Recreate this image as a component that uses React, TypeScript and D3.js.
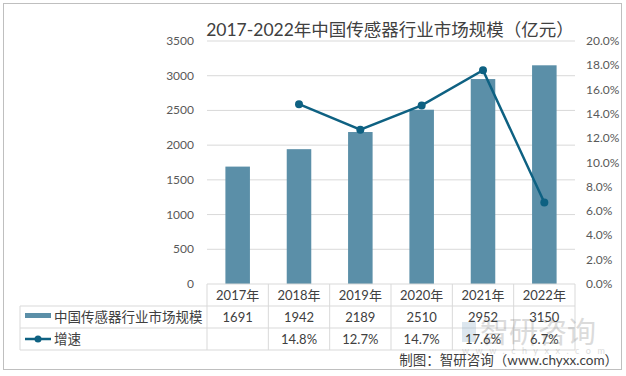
import React from "react";
import * as d3 from "d3";

const years = ["2017年", "2018年", "2019年", "2020年", "2021年", "2022年"];
const marketSize = [1691, 1942, 2189, 2510, 2952, 3150];
const growth: (number | null)[] = [null, 14.8, 12.7, 14.7, 17.6, 6.7];
const leftTicks = [0, 500, 1000, 1500, 2000, 2500, 3000, 3500];
const rightTicks = [0, 2, 4, 6, 8, 10, 12, 14, 16, 18, 20];
const seriesNames = ["中国传感器行业市场规模", "增速"];
const title = "2017-2022年中国传感器行业市场规模（亿元）";
const source = "制图：智研咨询（www.chyxx.com）";

const W = 626, H = 376;
const FONT = "Lato, 'Noto Sans CJK SC', sans-serif";
const BAR = "#5b8fa8";
const LINE = "#0e6182";
const GRID = "#d9d9d9";
const TXT = "#404040";

export default function App() {
  const x0 = 207, x1 = 575, yTop = 41, yBot = 284;
  const x = d3.scaleBand<string>().domain(years).range([x0, x1]).paddingInner(0).paddingOuter(0);
  const yL = d3.scaleLinear().domain([0, 3500]).range([yBot, yTop]);
  const yR = d3.scaleLinear().domain([0, 20]).range([yBot, yTop]);
  const bw = x.bandwidth() * 0.4;
  const cx = (i: number) => (x(years[i]) as number) + x.bandwidth() / 2;

  const pts = growth
    .map((g, i) => (g == null ? null : ([cx(i), yR(g)] as [number, number])))
    .filter((p): p is [number, number] => p !== null);
  const line = d3.line<[number, number]>()(pts) || "";

  const rowY = [284, 306, 328, 350];
  const legendX = 20;

  return (
    <svg width={W} height={H} style={{ position: "absolute", left: 0, top: 0, fontFamily: FONT }}>
      <rect x={0} y={0} width={W} height={H} fill="#fff" />
      <rect x={3.5} y={3.5} width={618} height={366} fill="none" stroke="#bfbfbf" strokeWidth={1} />
      <text x={390} y={36} textAnchor="middle" fontSize={17.5} fill={TXT}>{title}</text>

      {leftTicks.map((t) => (
        <g key={"l" + t}>
          {t > 0 && <line x1={x0} x2={x1} y1={yL(t)} y2={yL(t)} stroke={GRID} strokeWidth={1} />}
          <text x={194} y={yL(t) + 4} textAnchor="end" fontSize={12} fill="#595959">{t}</text>
        </g>
      ))}
      {rightTicks.map((t) => (
        <text key={"r" + t} x={586} y={yR(t) + 4} textAnchor="start" fontSize={12} fill="#595959">
          {t.toFixed(1) + "%"}
        </text>
      ))}

      {marketSize.map((v, i) => (
        <rect key={"b" + i} x={cx(i) - bw / 2} y={yL(v)} width={bw} height={yBot - yL(v)} fill={BAR} />
      ))}

      <path d={line} fill="none" stroke={LINE} strokeWidth={2.5} />
      {pts.map((p, i) => (
        <circle key={"c" + i} cx={p[0]} cy={p[1]} r={4} fill={LINE} />
      ))}

      {/* data table */}
      <line x1={x0} x2={x1} y1={rowY[0]} y2={rowY[0]} stroke={GRID} />
      {rowY.slice(1).map((y, i) => (
        <line key={"h" + i} x1={legendX} x2={x1} y1={y} y2={y} stroke={GRID} />
      ))}
      <line x1={legendX} x2={legendX} y1={rowY[1]} y2={rowY[3]} stroke={GRID} />
      {years.map((yr, i) => (
        <line key={"v" + i} x1={x(yr) as number} x2={x(yr) as number} y1={rowY[0]} y2={rowY[3]} stroke={GRID} />
      ))}
      <line x1={x1} x2={x1} y1={rowY[0]} y2={rowY[3]} stroke={GRID} />

      {/* watermark (behind table text) */}
      <g opacity={0.3}>
        <rect x={462} y={322} width={14} height={20} fill="#8fb0c8" />
        <text x={480} y={343} fontSize={29} fill="#8a8a8a">智研咨询</text>
        <text x={462} y={354} fontSize={9} fill="#8a8a8a" letterSpacing={6.5}>www.chyxx.com</text>
      </g>

      {years.map((yr, i) => (
        <text key={"y" + i} x={cx(i)} y={300} textAnchor="middle" fontSize={13} fill={TXT}>{yr}</text>
      ))}
      {marketSize.map((v, i) => (
        <text key={"m" + i} x={cx(i)} y={322} textAnchor="middle" fontSize={13} fill={TXT}>{v}</text>
      ))}
      {growth.map((g, i) =>
        g == null ? null : (
          <text key={"g" + i} x={cx(i)} y={344} textAnchor="middle" fontSize={13} fill={TXT}>
            {g.toFixed(1) + "%"}
          </text>
        )
      )}

      <rect x={25} y={313} width={26} height={5} fill={BAR} />
      <text x={54} y={322} fontSize={13.5} fill={TXT}>{seriesNames[0]}</text>
      <line x1={25} x2={51} y1={339} y2={339} stroke={LINE} strokeWidth={2.5} />
      <circle cx={38} cy={339} r={3.5} fill={LINE} />
      <text x={54} y={344} fontSize={13.5} fill={TXT}>{seriesNames[1]}</text>

      <text x={618} y={365} textAnchor="end" fontSize={13.5} fill={TXT}>{source}</text>
    </svg>
  );
}
